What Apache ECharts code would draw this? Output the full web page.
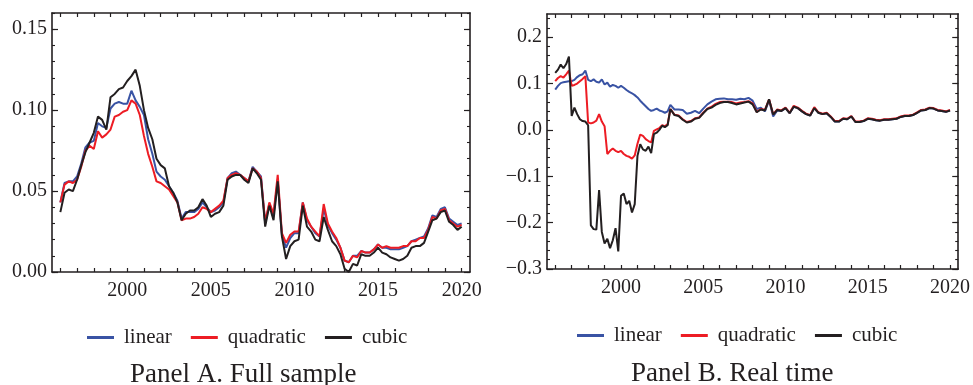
<!DOCTYPE html>
<html>
<head>
<meta charset="utf-8">
<script src="https://cdn.jsdelivr.net/npm/echarts@6/dist/echarts.min.js"></script>
<style>
html,body{margin:0;padding:0;background:#fff;}
#chart{width:973px;height:385px;}
</style>
</head>
<body>
<div id="chart"></div>
<script>
// ---------- data ----------
const seriesNames = ['linear', 'quadratic', 'cubic'];
const panelTitles = ['Panel A. Full sample', 'Panel B. Real time'];
const yearTickLabels = [2000, 2005, 2010, 2015, 2020];
const yLabelsA = [0, 0.05, 0.10, 0.15];
const yLabelsB = [-0.3, -0.2, -0.1, 0.0, 0.1, 0.2];

// time grid helpers (decimal years)
function grid(start, end, step) {
  const out = [];
  for (let v = start; v <= end + 1e-9; v += step) out.push(Math.round(v * 1000) / 1000);
  return out;
}
// Panel A: quarterly 1996.00 .. 2020.00
const datesA = grid(1996, 2020, 0.25);
// Panel B: bimonthly 1996.00 .. 2003.00, then quarterly 2003.25 .. 2020.00
const datesB = grid(1996, 2003, 1 / 6).concat(grid(2003.25, 2020, 0.25));

const linearA = [
  0.043, 0.055, 0.056, 0.056,  0.059, 0.067, 0.077, 0.080,  0.081, 0.092, 0.090, 0.089,
  0.101, 0.104, 0.105, 0.104,  0.104, 0.112, 0.106, 0.102,  0.097, 0.082, 0.073, 0.062,
  0.059, 0.057, 0.053, 0.049,  0.044, 0.033, 0.037, 0.037,  0.037, 0.039, 0.043, 0.040,
  0.037, 0.038, 0.040, 0.043,  0.058, 0.061, 0.062, 0.060,  0.058, 0.056, 0.065, 0.062,
  0.059, 0.030, 0.042, 0.035,  0.057, 0.023, 0.015, 0.021,  0.024, 0.024, 0.043, 0.032,
  0.028, 0.024, 0.022, 0.039,  0.029, 0.024, 0.020, 0.015,  0.007, 0.006, 0.010, 0.010,
  0.013, 0.012, 0.012, 0.014,  0.017, 0.015, 0.015, 0.014,  0.014, 0.014, 0.015, 0.016,
  0.019, 0.020, 0.021, 0.022,  0.027, 0.035, 0.034, 0.039,  0.040, 0.033, 0.031, 0.029,
  0.030
];
const quadraticA = [
  0.043, 0.054, 0.056, 0.055,  0.057, 0.065, 0.075, 0.078,  0.076, 0.087, 0.083, 0.085,
  0.088, 0.096, 0.097, 0.099,  0.100, 0.106, 0.104, 0.097,  0.084, 0.073, 0.065, 0.056,
  0.055, 0.053, 0.051, 0.047,  0.043, 0.032, 0.033, 0.033,  0.034, 0.036, 0.040, 0.039,
  0.037, 0.039, 0.041, 0.044,  0.058, 0.060, 0.061, 0.060,  0.058, 0.056, 0.064, 0.062,
  0.058, 0.031, 0.043, 0.036,  0.060, 0.024, 0.018, 0.023,  0.025, 0.025, 0.043, 0.033,
  0.028, 0.025, 0.022, 0.042,  0.030, 0.025, 0.021, 0.015,  0.007, 0.006, 0.010, 0.009,
  0.013, 0.012, 0.012, 0.014,  0.017, 0.015, 0.016, 0.015,  0.015, 0.015, 0.016, 0.016,
  0.019, 0.019, 0.021, 0.021,  0.026, 0.034, 0.033, 0.038,  0.039, 0.032, 0.030, 0.028,
  0.029
];
const cubicA = [
  0.037, 0.049, 0.051, 0.050,  0.057, 0.066, 0.074, 0.080,  0.086, 0.096, 0.094, 0.088,
  0.108, 0.110, 0.113, 0.114,  0.118, 0.121, 0.125, 0.115,  0.100, 0.089, 0.082, 0.070,
  0.066, 0.064, 0.053, 0.049,  0.043, 0.032, 0.036, 0.038,  0.038, 0.040, 0.045, 0.041,
  0.034, 0.036, 0.037, 0.041,  0.057, 0.059, 0.060, 0.060,  0.057, 0.055, 0.064, 0.061,
  0.057, 0.028, 0.041, 0.032,  0.056, 0.022, 0.008, 0.016,  0.019, 0.020, 0.041, 0.028,
  0.025, 0.020, 0.019, 0.034,  0.026, 0.019, 0.016, 0.011,  0.002, 0.000, 0.005, 0.004,
  0.011, 0.010, 0.010, 0.012,  0.015, 0.012, 0.011, 0.009,  0.008, 0.007, 0.008, 0.010,
  0.015, 0.016, 0.016, 0.018,  0.025, 0.032, 0.033, 0.037,  0.038, 0.031, 0.029, 0.026,
  0.028
];

const linearB = [
  // bimonthly 1996.0 - 2003.0
  0.087, 0.095, 0.101, 0.103, 0.104, 0.105,
  0.105, 0.108, 0.114, 0.118, 0.120, 0.128,
  0.108, 0.105, 0.109, 0.104, 0.102, 0.109,
  0.098, 0.102, 0.093, 0.097, 0.095, 0.091,
  0.095, 0.091, 0.086, 0.082, 0.079, 0.075,
  0.070, 0.063, 0.057, 0.051, 0.045, 0.041,
  0.043, 0.046, 0.042, 0.040, 0.037, 0.040,
  0.054,
  // quarterly 2003.25 - 2020.0
  0.044, 0.044, 0.043,
  0.035, 0.037, 0.041, 0.036,  0.046, 0.055, 0.061, 0.066,  0.067, 0.068, 0.066, 0.066,
  0.065, 0.067, 0.066, 0.069,  0.063, 0.045, 0.048, 0.040,  0.064, 0.029, 0.042, 0.041,
  0.047, 0.036, 0.050, 0.047,  0.040, 0.034, 0.031, 0.047,  0.037, 0.034, 0.036, 0.028,
  0.018, 0.018, 0.024, 0.023,  0.029, 0.017, 0.017, 0.019,  0.024, 0.023, 0.021, 0.020,
  0.022, 0.022, 0.023, 0.024,  0.028, 0.030, 0.030, 0.032,  0.037, 0.042, 0.043, 0.047,
  0.046, 0.042, 0.041, 0.039,  0.042
];
const quadraticB = [
  0.105, 0.112, 0.116, 0.113, 0.120, 0.128,
  0.095, 0.097, 0.100, 0.105, 0.110, 0.116,
  0.016, 0.014, 0.016, 0.020, 0.034, 0.018,
  0.008, -0.052, -0.045, -0.040, -0.045, -0.048,
  -0.045, -0.052, -0.056, -0.058, -0.062, -0.055,
  -0.030, -0.010, -0.013, -0.020, -0.024, -0.027,
  -0.002, 0.001, 0.004, 0.010, 0.008, 0.012,
  0.045,
  0.033, 0.031, 0.023,
  0.017, 0.019, 0.025, 0.027,  0.037, 0.046, 0.050, 0.056,  0.060, 0.061, 0.061, 0.060,
  0.057, 0.059, 0.060, 0.062,  0.057, 0.039, 0.045, 0.043,  0.066, 0.034, 0.044, 0.042,
  0.048, 0.037, 0.052, 0.048,  0.041, 0.035, 0.032, 0.049,  0.038, 0.035, 0.037, 0.029,
  0.019, 0.019, 0.025, 0.024,  0.030, 0.018, 0.018, 0.020,  0.025, 0.024, 0.022, 0.021,
  0.023, 0.023, 0.024, 0.025,  0.029, 0.031, 0.031, 0.033,  0.038, 0.043, 0.044, 0.048,
  0.047, 0.043, 0.042, 0.040,  0.043
];
const cubicB = [
  0.123, 0.130, 0.141, 0.133, 0.142, 0.158,
  0.030, 0.048, 0.034, 0.023, 0.019, 0.018,
  0.010, -0.206, -0.214, -0.215, -0.130, -0.220,
  -0.245, -0.235, -0.255, -0.238, -0.212, -0.262,
  -0.142, -0.137, -0.160, -0.153, -0.178, -0.160,
  -0.056, -0.031, -0.042, -0.045, -0.036, -0.050,
  -0.009, -0.006, 0.000, 0.009, 0.006, 0.010,
  0.045,
  0.032, 0.030, 0.022,
  0.016, 0.018, 0.024, 0.026,  0.036, 0.045, 0.048, 0.054,  0.058, 0.060, 0.060, 0.058,
  0.055, 0.057, 0.059, 0.061,  0.055, 0.038, 0.044, 0.042,  0.066, 0.033, 0.043, 0.041,
  0.047, 0.036, 0.050, 0.047,  0.040, 0.034, 0.031, 0.047,  0.037, 0.034, 0.036, 0.028,
  0.018, 0.018, 0.024, 0.023,  0.029, 0.017, 0.017, 0.019,  0.024, 0.023, 0.021, 0.020,
  0.022, 0.022, 0.023, 0.024,  0.028, 0.030, 0.030, 0.032,  0.037, 0.042, 0.043, 0.047,
  0.046, 0.042, 0.041, 0.039,  0.042
];

// ---------- styling ----------
const COLORS = ['#3953a4', '#ed1c24', '#231f20'];
const INK = '#231f20';
const SERIF = '"Liberation Serif", "Times New Roman", serif';

const yearTicks = grid(1996, 2020, 1);
const minorA = grid(0, 0.16, 0.01);
const minorB = grid(-0.3, 0.24, 0.02);

function fmtA(v) { return v.toFixed(2); }
function fmtB(v) { const s = Math.abs(v).toFixed(1); return v < -1e-9 ? '\u2212' + s : s; }

function xPair(gi) {
  const common = {
    gridIndex: gi, type: 'value', min: 1995.5, max: 2020.5,
    splitLine: { show: false },
    axisLine: { show: true, onZero: false, lineStyle: { color: INK, width: 1.6 } },
    axisTick: { show: true, inside: true, length: 4, customValues: yearTicks, lineStyle: { color: INK, width: 1.2 } }
  };
  return [
    Object.assign({}, common, {
      position: 'bottom',
      axisLabel: { show: true, customValues: yearTickLabels, formatter: v => String(Math.round(v)),
        color: INK, fontFamily: SERIF, fontSize: 20, margin: 9 }
    }),
    Object.assign({}, common, { position: 'top', axisLabel: { show: false } })
  ];
}

function yQuad(gi, min, max, labels, minors, fmt) {
  const base = { gridIndex: gi, type: 'value', min: min, max: max, splitLine: { show: false } };
  const major = (pos, showLabel) => Object.assign({}, base, {
    position: pos,
    axisLine: { show: true, onZero: false, lineStyle: { color: INK, width: 1.6 } },
    axisTick: { show: true, inside: true, length: 6, customValues: labels, lineStyle: { color: INK, width: 1.2 } },
    axisLabel: showLabel ? { show: true, customValues: labels, formatter: fmt, color: INK,
      fontFamily: SERIF, fontSize: 20, margin: 5 } : { show: false }
  });
  const minor = (pos) => Object.assign({}, base, {
    position: pos,
    axisLine: { show: false, onZero: false },
    axisTick: { show: true, inside: true, length: 3, customValues: minors, lineStyle: { color: INK, width: 1.1 } },
    axisLabel: { show: false }
  });
  return [major('left', true), minor('left'), major('right', false), minor('right')];
}

function lineSeries(name, idx, xi, yi, dates, vals) {
  return {
    name: name, type: 'line', xAxisIndex: xi, yAxisIndex: yi,
    data: dates.map((d, i) => [d, vals[i]]),
    showSymbol: false, symbol: 'none',
    lineStyle: { color: COLORS[idx], width: 2 },
    itemStyle: { color: COLORS[idx] },
    z: 2 + idx
  };
}

const legendBase = {
  orient: 'horizontal', icon: 'rect', itemWidth: 27, itemHeight: 3, itemGap: 19,
  data: seriesNames, selectedMode: false, padding: 0,
  textStyle: { color: INK, fontFamily: SERIF, fontSize: 21, padding: [0, 0, 0, 5] }
};

const option = {
  animation: false,
  backgroundColor: '#ffffff',
  grid: [
    { left: 52, top: 13, width: 418, height: 259 },
    { left: 547, top: 14, width: 413, height: 255 }
  ],
  xAxis: xPair(0).concat(xPair(1)),
  yAxis: yQuad(0, 0, 0.16, yLabelsA, minorA, fmtA).concat(yQuad(1, -0.3, 0.25, yLabelsB, minorB, fmtB)),
  legend: [
    Object.assign({}, legendBase, { left: 87, top: 327 }),
    Object.assign({}, legendBase, { left: 577, top: 325 })
  ],
  title: [
    { text: panelTitles[0], left: 130, top: 361, padding: 0,
      textStyle: { color: INK, fontFamily: SERIF, fontSize: 27, fontWeight: 'normal' } },
    { text: panelTitles[1], left: 631, top: 360, padding: 0,
      textStyle: { color: INK, fontFamily: SERIF, fontSize: 27, fontWeight: 'normal' } }
  ],
  series: [
    lineSeries(seriesNames[0], 0, 0, 0, datesA, linearA),
    lineSeries(seriesNames[1], 1, 0, 0, datesA, quadraticA),
    lineSeries(seriesNames[2], 2, 0, 0, datesA, cubicA),
    lineSeries(seriesNames[0], 0, 2, 4, datesB, linearB),
    lineSeries(seriesNames[1], 1, 2, 4, datesB, quadraticB),
    lineSeries(seriesNames[2], 2, 2, 4, datesB, cubicB)
  ]
};

const chart = echarts.init(document.getElementById('chart'), null, { renderer: 'canvas' });
chart.setOption(option);
</script>
</body>
</html>
